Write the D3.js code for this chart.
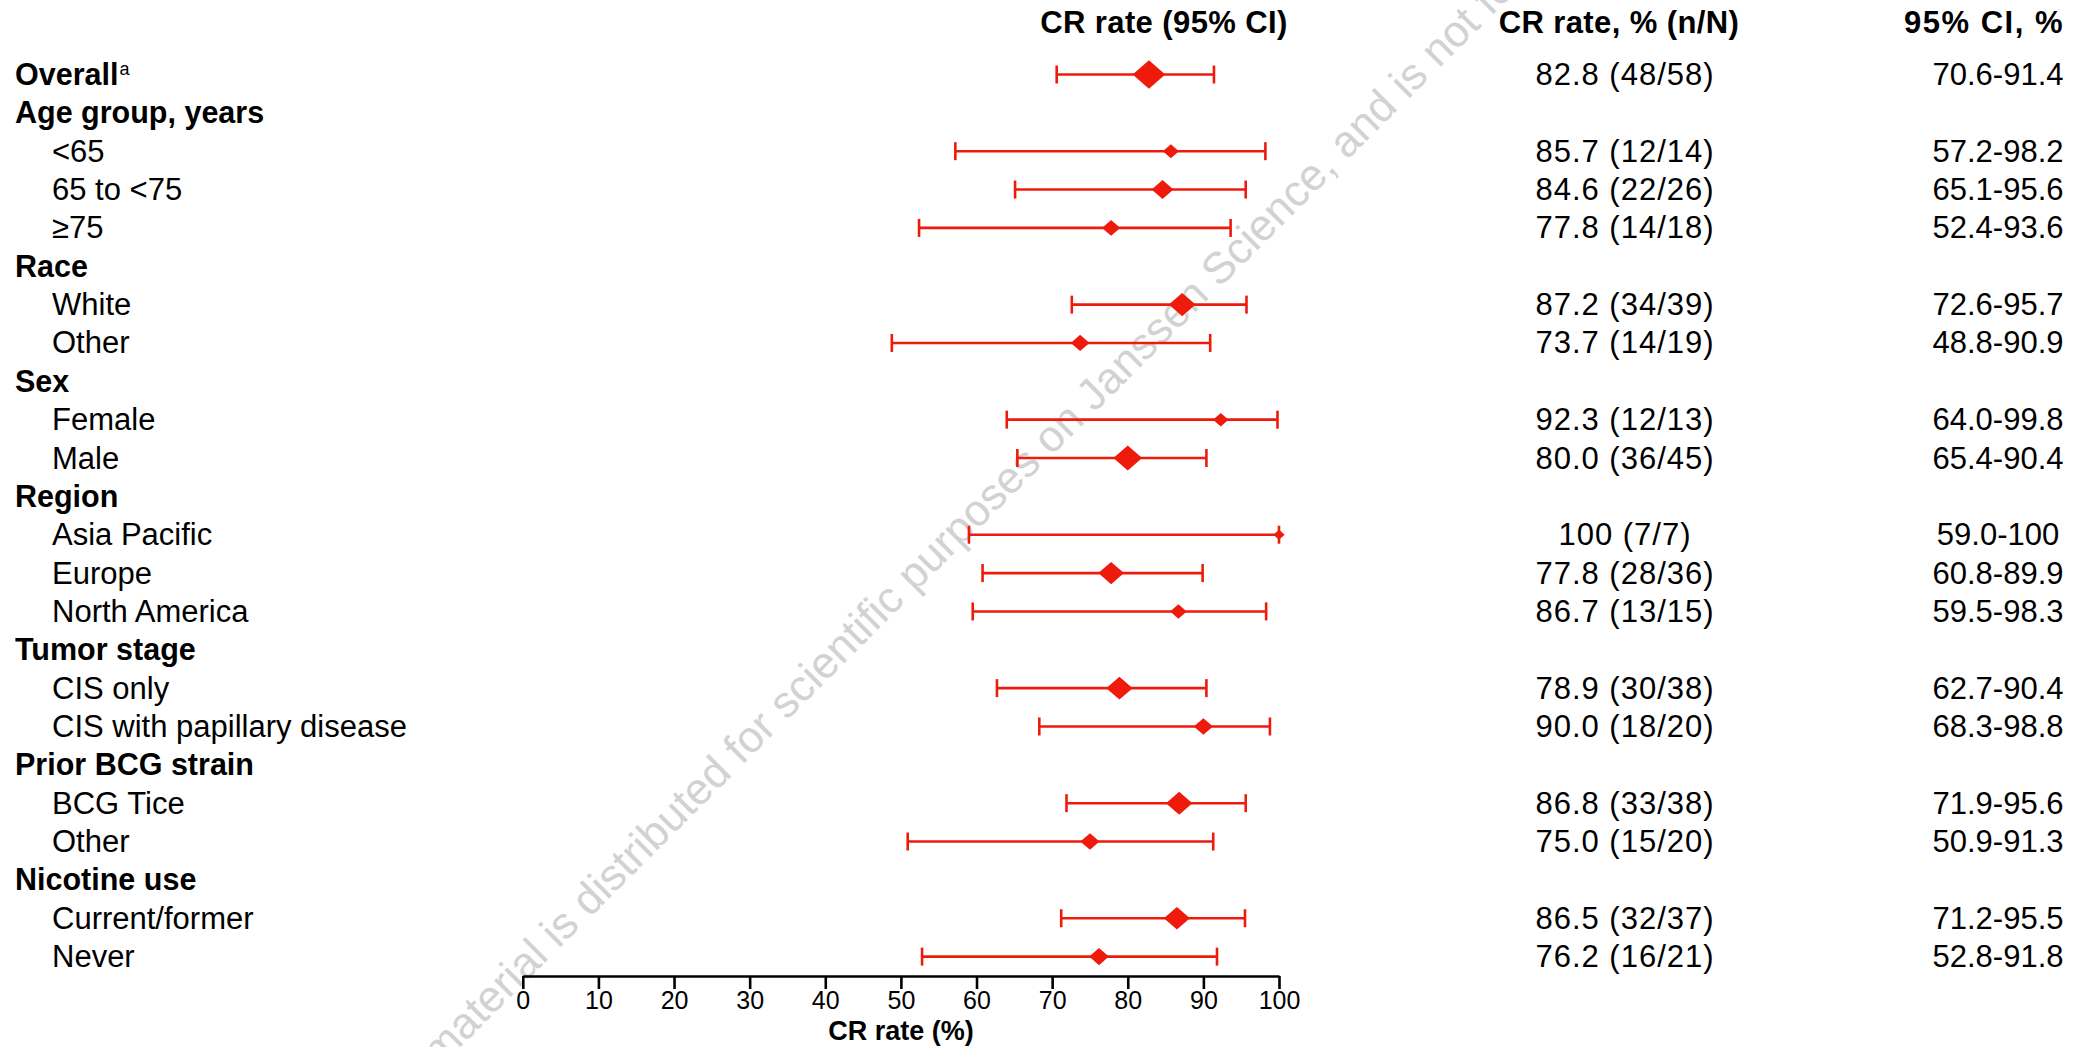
<!DOCTYPE html>
<html>
<head>
<meta charset="utf-8">
<script src="https://cdn.jsdelivr.net/npm/d3@7"></script>
<style>
  html, body { margin: 0; padding: 0; background: #fff; }
  svg { display: block; }
  text { font-family: "Liberation Sans", Arial, Helvetica, sans-serif; fill: #000; }
</style>
</head>
<body>
<svg id="chart" width="2086" height="1047"></svg>
<script>
// ---- data ----
const labels = ["Overall", "Age group, years", "<65", "65 to <75", "\u226575", "Race", "White", "Other",
  "Sex", "Female", "Male", "Region", "Asia Pacific", "Europe", "North America", "Tumor stage",
  "CIS only", "CIS with papillary disease", "Prior BCG strain", "BCG Tice", "Other",
  "Nicotine use", "Current/former", "Never"];
const isHeader = [1,1,0,0,0,1,0,0,1,0,0,1,0,0,0,1,0,0,1,0,0,1,0,0];
const rate   = [82.8,null,85.7,84.6,77.8,null,87.2,73.7,null,92.3,80.0,null,100,77.8,86.7,null,78.9,90.0,null,86.8,75.0,null,86.5,76.2];
const nResp  = [48,null,12,22,14,null,34,14,null,12,36,null,7,28,13,null,30,18,null,33,15,null,32,16];
const nTotal = [58,null,14,26,18,null,39,19,null,13,45,null,7,36,15,null,38,20,null,38,20,null,37,21];
const ciLow  = [70.6,null,57.2,65.1,52.4,null,72.6,48.8,null,64.0,65.4,null,59.0,60.8,59.5,null,62.7,68.3,null,71.9,50.9,null,71.2,52.8];
const ciHigh = [91.4,null,98.2,95.6,93.6,null,95.7,90.9,null,99.8,90.4,null,100,89.9,98.3,null,90.4,98.8,null,95.6,91.3,null,95.5,91.8];
const xTicks = [0,10,20,30,40,50,60,70,80,90,100];
const headers = ["CR rate (95% CI)", "CR rate, % (n/N)", "95% CI, %"];
const axisTitle = "CR rate (%)";
const watermark = "This material is distributed for scientific purposes on Janssen Science, and is not for promotional use";

// ---- layout ----
const RED = "#ee1a0c";
const svg = d3.select("#chart");
const rows = d3.range(labels.length);
const y = d3.scalePoint().domain(rows).range([74.5, 956.6]);
const x = d3.scaleLinear().domain([0, 100]).range([522.8, 1279]);
const size = d3.scaleSqrt().domain([0, 58]).range([0, 16.3]);
const fmt = v => v === 100 ? "100" : v.toFixed(1);

// watermark (behind)
const wm = svg.append("text")
  .attr("transform", "translate(562,930) rotate(-45)")
  .style("font-size", "44px")
  .style("fill", "#d2d2d2")
  .text(watermark);
(function () {
  const node = wm.node();
  const idx = watermark.indexOf(" is ") + 1;
  const off = node.getSubStringLength(0, idx) + node.getSubStringLength(idx, 2) / 2;
  wm.attr("x", -off).attr("y", 11);
})();

// column headers
const hdrX = [1164, 1619, 1984];
svg.selectAll("text.hdr").data(headers).join("text")
  .attr("class", "hdr")
  .attr("x", (d, i) => hdrX[i]).attr("y", 33)
  .attr("text-anchor", "middle")
  .style("font-size", "31px").style("font-weight", "bold")
  .style("letter-spacing", (d, i) => i === 2 ? "1.5px" : "0.4px")
  .text(d => d);

// row labels
const lab = svg.selectAll("text.lab").data(rows).join("text")
  .attr("class", "lab")
  .attr("x", i => isHeader[i] ? 15 : 52)
  .attr("y", i => y(i) + 10.5)
  .style("font-size", i => isHeader[i] ? "30.5px" : "31px")
  .style("font-weight", i => isHeader[i] ? "bold" : "normal")
  .text(i => labels[i]);
lab.filter(i => i === 0).append("tspan")
  .attr("dy", -10).attr("dx", 1)
  .style("font-size", "18px").style("font-weight", "normal")
  .text("a");

const dataRows = rows.filter(i => rate[i] !== null);

// CI lines
const g = svg.append("g");
g.selectAll("line.ci").data(dataRows).join("line")
  .attr("x1", i => x(ciLow[i])).attr("x2", i => x(ciHigh[i]))
  .attr("y1", i => y(i)).attr("y2", i => y(i))
  .attr("stroke", RED).attr("stroke-width", 2.6);
g.selectAll("line.capL").data(dataRows).join("line")
  .attr("x1", i => x(ciLow[i])).attr("x2", i => x(ciLow[i]))
  .attr("y1", i => y(i) - 9).attr("y2", i => y(i) + 9)
  .attr("stroke", RED).attr("stroke-width", 2.6);
g.selectAll("line.capR").data(dataRows).join("line")
  .attr("x1", i => x(ciHigh[i])).attr("x2", i => x(ciHigh[i]))
  .attr("y1", i => y(i) - 9).attr("y2", i => y(i) + 9)
  .attr("stroke", RED).attr("stroke-width", 2.6);
// diamonds
g.selectAll("path.dia").data(dataRows).join("path")
  .attr("d", i => {
    const cx = x(rate[i]), cy = y(i), hw = size(nTotal[i]), hh = hw * 0.87;
    return `M${cx - hw},${cy}L${cx},${cy - hh}L${cx + hw},${cy}L${cx},${cy + hh}Z`;
  })
  .attr("fill", RED);

// value columns
svg.selectAll("text.rate").data(dataRows).join("text")
  .attr("x", 1625).attr("y", i => y(i) + 10.5)
  .attr("text-anchor", "middle")
  .style("font-size", "31px")
  .style("letter-spacing", "1px")
  .text(i => `${fmt(rate[i])} (${nResp[i]}/${nTotal[i]})`);
svg.selectAll("text.ci").data(dataRows).join("text")
  .attr("x", 1998).attr("y", i => y(i) + 10.5)
  .attr("text-anchor", "middle")
  .style("font-size", "31px")
  .text(i => `${fmt(ciLow[i])}-${fmt(ciHigh[i])}`);

// axis
const axis = svg.append("g").attr("transform", "translate(0,976)")
  .call(d3.axisBottom(x).tickValues(xTicks).tickSize(13).tickSizeOuter(0).tickPadding(2));
axis.select(".domain").attr("stroke", "#000").attr("stroke-width", 2.6);
axis.selectAll(".tick line").attr("stroke", "#000").attr("stroke-width", 2.6);
axis.selectAll(".tick text").style("font-size", "25px")
  .style("font-family", "'Liberation Sans', Arial, sans-serif").attr("fill", "#000");

svg.append("text")
  .attr("x", 901).attr("y", 1040)
  .attr("text-anchor", "middle")
  .style("font-size", "27px").style("font-weight", "bold")
  .text(axisTitle);
</script>
</body>
</html>
